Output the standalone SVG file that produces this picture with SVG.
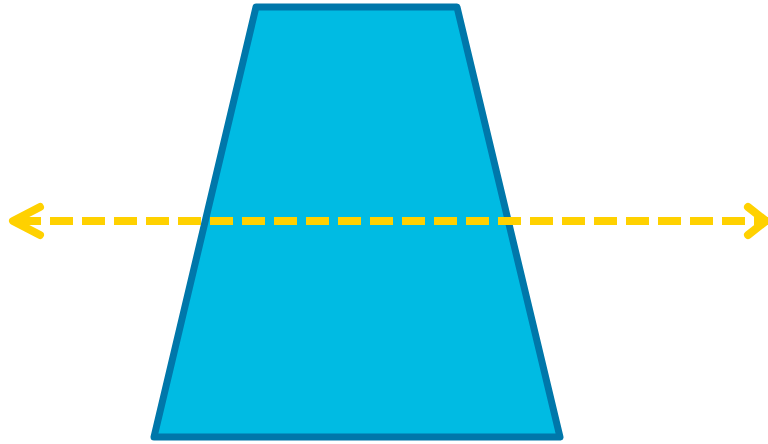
<svg xmlns="http://www.w3.org/2000/svg" width="768" height="444" viewBox="0 0 768 444">
<style>
.shape{fill:#00BBE3;stroke:#0077AA;stroke-width:7;stroke-linejoin:round}
.axis{fill:none;stroke:#FFD100;stroke-width:8}
.head{fill:none;stroke:#FFD100;stroke-width:8;stroke-linecap:round;stroke-linejoin:round}
</style>
<rect width="768" height="444" fill="#FFFFFF"/>
<g id="trapezoid">
<polygon class="shape" points="256,7 457,7 560,437 154,437"/>
</g>
<g id="connectors">
<line class="axis" x1="18" y1="221" x2="768" y2="221" stroke-dasharray="23 9"/>
<polyline class="head" points="40,207 13,221 40,235"/>
<polyline class="head" points="748,207 766,221 748,235"/>
</g>
</svg>
